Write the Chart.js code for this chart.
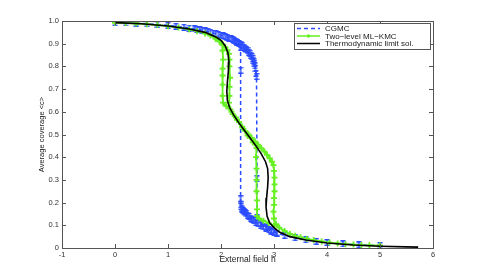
<!DOCTYPE html>
<html>
<head>
<meta charset="utf-8">
<script src="https://cdn.jsdelivr.net/npm/chart.js@4/dist/chart.umd.min.js"></script>
<style>
  html, body { margin: 0; padding: 0; background: #fff; }
  #wrap { width: 479px; height: 279px; }
</style>
</head>
<body>
<div id="wrap"><canvas id="chart" width="479" height="279"></canvas></div>
<script>
// Axis ticks
var hTicks = [-1, 0, 1, 2, 3, 4, 5, 6];
var cTicks = [0, 0.1, 0.2, 0.3, 0.4, 0.5, 0.6, 0.7, 0.8, 0.9, 1];

// CGMC, increasing h (upper branch, jump down, lower branch)
var cgmcFwdH = [0, 0.2, 0.4, 0.6, 0.8, 1.0, 1.15, 1.3, 1.4, 1.5, 1.55, 1.6, 1.65, 1.7, 1.75, 1.8, 1.85, 1.9, 1.95, 2.0, 2.04, 2.08, 2.12, 2.15, 2.19, 2.22, 2.25, 2.28, 2.31, 2.34, 2.37, 2.4, 2.43, 2.45, 2.48, 2.5, 2.52, 2.54, 2.56, 2.58, 2.6, 2.61, 2.62, 2.63, 2.64, 2.65, 2.66, 2.67, 2.68, 2.68, 2.75, 2.85, 2.95, 3.05, 3.2, 3.4, 3.6, 3.8, 4.0, 4.3, 4.6, 5.0];
var cgmcFwdC = [0.993, 0.992, 0.990, 0.988, 0.985, 0.981, 0.977, 0.973, 0.969, 0.965, 0.963, 0.961, 0.959, 0.956, 0.953, 0.950, 0.947, 0.944, 0.941, 0.937, 0.934, 0.931, 0.928, 0.925, 0.921, 0.918, 0.914, 0.910, 0.906, 0.901, 0.896, 0.890, 0.884, 0.880, 0.873, 0.868, 0.862, 0.856, 0.849, 0.842, 0.835, 0.828, 0.820, 0.812, 0.802, 0.790, 0.770, 0.755, 0.305, 0.135, 0.108, 0.092, 0.078, 0.066, 0.055, 0.045, 0.036, 0.029, 0.024, 0.018, 0.014, 0.011];
// CGMC, decreasing h (lower branch, jump up)
var cgmcBackH = [3.05, 3.0, 2.95, 2.9, 2.85, 2.8, 2.75, 2.7, 2.66, 2.62, 2.59, 2.56, 2.53, 2.5, 2.48, 2.46, 2.44, 2.42, 2.4, 2.39, 2.38, 2.37, 2.37, 2.37, 2.37, 2.3];
var cgmcBackC = [0.066, 0.069, 0.074, 0.080, 0.086, 0.093, 0.100, 0.107, 0.113, 0.120, 0.126, 0.132, 0.139, 0.145, 0.150, 0.155, 0.160, 0.165, 0.171, 0.176, 0.183, 0.190, 0.217, 0.783, 0.885, 0.905];

// Two-level ML-KMC, increasing h
var kmcFwdH = [0, 0.2, 0.4, 0.6, 0.8, 1.0, 1.2, 1.4, 1.55, 1.7, 1.8, 1.9, 1.97, 2.03, 2.08, 2.12, 2.15, 2.16, 2.16, 2.17, 2.16, 2.16, 2.15, 2.18, 2.22, 2.28, 2.34, 2.4, 2.46, 2.52, 2.58, 2.64, 2.7, 2.76, 2.82, 2.87, 2.92, 2.96, 2.99, 3.0, 3.01, 3.01, 3.01, 3.0, 3.0, 2.99, 3.0, 3.04, 3.1, 3.2, 3.3, 3.4, 3.5, 3.62, 3.75, 3.9, 4.05, 4.2, 4.35, 4.5, 4.65, 4.8, 5.0];
var kmcFwdC = [0.992, 0.991, 0.989, 0.986, 0.982, 0.977, 0.971, 0.963, 0.955, 0.945, 0.936, 0.922, 0.910, 0.897, 0.885, 0.872, 0.855, 0.830, 0.800, 0.750, 0.710, 0.670, 0.640, 0.610, 0.590, 0.575, 0.555, 0.535, 0.515, 0.500, 0.485, 0.470, 0.455, 0.440, 0.425, 0.410, 0.395, 0.380, 0.365, 0.340, 0.310, 0.280, 0.250, 0.220, 0.190, 0.160, 0.130, 0.105, 0.090, 0.075, 0.062, 0.054, 0.047, 0.041, 0.035, 0.029, 0.024, 0.020, 0.017, 0.015, 0.013, 0.012, 0.011];
// Two-level ML-KMC, decreasing h
var kmcBackH = [3.0, 2.9, 2.8, 2.72, 2.68, 2.68, 2.68, 2.67, 2.67, 2.67, 2.66, 2.67, 2.6, 2.5, 2.4, 2.3, 2.2, 2.1, 2.04, 2.03, 2.03, 2.03, 2.03, 2.04, 2.03, 2.03, 1.98, 1.9];
var kmcBackC = [0.100, 0.110, 0.120, 0.130, 0.140, 0.170, 0.210, 0.250, 0.300, 0.350, 0.400, 0.440, 0.465, 0.495, 0.530, 0.565, 0.600, 0.625, 0.640, 0.670, 0.720, 0.760, 0.790, 0.830, 0.870, 0.895, 0.910, 0.922];

// Thermodynamic limit solution
var thermoH = [0, 0.5, 1, 1.4, 1.7, 1.9, 2.0, 2.08, 2.13, 2.15, 2.14, 2.12, 2.11, 2.12, 2.16, 2.24, 2.34, 2.45, 2.55, 2.66, 2.76, 2.84, 2.88, 2.89, 2.88, 2.86, 2.85, 2.87, 2.92, 3.0, 3.1, 3.3, 3.6, 4.0, 4.5, 5.0, 5.5, 5.72];
var thermoC = [0.993, 0.988, 0.978, 0.965, 0.950, 0.930, 0.915, 0.890, 0.860, 0.820, 0.780, 0.730, 0.690, 0.650, 0.620, 0.585, 0.550, 0.515, 0.485, 0.450, 0.415, 0.380, 0.350, 0.310, 0.270, 0.220, 0.180, 0.140, 0.110, 0.090, 0.070, 0.050, 0.035, 0.022, 0.013, 0.008, 0.005, 0.004];

var BLUE = '#2a4bff';
var GREEN = '#66f022';
var AXIS = '#555';
var FONT = '"Liberation Sans", Arial, sans-serif';

function pairs(xs, ys) {
  return xs.map(function (x, i) { return { x: x, y: ys[i] }; });
}

// little error-bar glyph for the CGMC points
function errorBarGlyph(color) {
  var c = document.createElement('canvas');
  c.width = 6; c.height = 7;
  var g = c.getContext('2d');
  g.strokeStyle = color;
  g.lineWidth = 1.4;
  g.beginPath();
  g.moveTo(3, 0.5); g.lineTo(3, 6.5);
  g.moveTo(0.5, 0.8); g.lineTo(5.5, 0.8);
  g.moveTo(0.5, 6.2); g.lineTo(5.5, 6.2);
  g.stroke();
  return c;
}
var blueGlyph = errorBarGlyph(BLUE);

// box around the plot with inward ticks on all four sides
var boxPlugin = {
  id: 'box',
  afterDatasetsDraw: function (chart) {
    var ctx = chart.ctx, a = chart.chartArea;
    var xs = chart.scales.x, ys = chart.scales.y;
    ctx.save();
    ctx.strokeStyle = AXIS;
    ctx.lineWidth = 1;
    ctx.strokeRect(a.left + 0.5, a.top + 0.5, a.right - a.left, a.bottom - a.top);
    ctx.beginPath();
    hTicks.forEach(function (v) {
      var px = Math.round(xs.getPixelForValue(v)) + 0.5;
      ctx.moveTo(px, a.bottom); ctx.lineTo(px, a.bottom - 4);
      ctx.moveTo(px, a.top); ctx.lineTo(px, a.top + 4);
    });
    cTicks.forEach(function (v) {
      var py = Math.round(ys.getPixelForValue(v)) + 0.5;
      ctx.moveTo(a.left, py); ctx.lineTo(a.left + 4, py);
      ctx.moveTo(a.right, py); ctx.lineTo(a.right - 4, py);
    });
    ctx.stroke();
    ctx.restore();
  }
};

// matlab-like legend box in the upper right corner
var legendPlugin = {
  id: 'mlegend',
  afterDraw: function (chart) {
    var ctx = chart.ctx;
    var bx = 294, by = 23, bw = 136, bh = 26;
    ctx.save();
    ctx.fillStyle = '#fff';
    ctx.fillRect(bx, by, bw, bh);
    ctx.strokeStyle = AXIS;
    ctx.lineWidth = 1;
    ctx.strokeRect(bx + 0.5, by + 0.5, bw, bh);
    var rows = [
      { text: 'CGMC', color: BLUE, dash: [4, 3], marker: false },
      { text: 'Two\u2212level ML\u2212KMC', color: GREEN, dash: [], marker: true },
      { text: 'Thermodynamic limit sol.', color: '#000', dash: [], marker: false }
    ];
    rows.forEach(function (r, i) {
      var y = by + 5.5 + i * 7.5;
      ctx.strokeStyle = r.color;
      ctx.lineWidth = 1.5;
      ctx.setLineDash(r.dash);
      ctx.beginPath();
      ctx.moveTo(297, y); ctx.lineTo(320, y);
      ctx.stroke();
      ctx.setLineDash([]);
      if (r.marker) {
        ctx.fillStyle = r.color;
        ctx.beginPath();
        ctx.arc(308.5, y, 1.8, 0, Math.PI * 2);
        ctx.fill();
      }
      ctx.fillStyle = '#222';
      ctx.font = '8px ' + FONT;
      ctx.textBaseline = 'middle';
      ctx.fillText(r.text, 325, y + 0.5);
    });
    ctx.restore();
  }
};

var ctx = document.getElementById('chart').getContext('2d');
new Chart(ctx, {
  type: 'scatter',
  data: {
    datasets: [
      {
        label: 'Thermodynamic limit sol.',
        data: pairs(thermoH, thermoC),
        showLine: true, borderColor: '#000', borderWidth: 1.6,
        pointRadius: 0, order: 0
      },
      {
        label: 'Two-level ML-KMC',
        data: pairs(kmcFwdH, kmcFwdC),
        showLine: true, borderColor: GREEN, borderWidth: 1.8,
        pointStyle: 'cross', pointRadius: 3, pointBorderWidth: 1.8,
        pointBorderColor: GREEN, pointBackgroundColor: GREEN, order: 1
      },
      {
        label: 'Two-level ML-KMC (back)',
        data: pairs(kmcBackH, kmcBackC),
        showLine: true, borderColor: GREEN, borderWidth: 1.8,
        pointStyle: 'cross', pointRadius: 3, pointBorderWidth: 1.8,
        pointBorderColor: GREEN, pointBackgroundColor: GREEN, order: 1
      },
      {
        label: 'CGMC',
        data: pairs(cgmcFwdH, cgmcFwdC),
        showLine: true, borderColor: BLUE, borderWidth: 1.5, borderDash: [4, 3],
        pointStyle: blueGlyph, pointRadius: 2, order: 2
      },
      {
        label: 'CGMC (back)',
        data: pairs(cgmcBackH, cgmcBackC),
        showLine: true, borderColor: BLUE, borderWidth: 1.5, borderDash: [4, 3],
        pointStyle: blueGlyph, pointRadius: 2, order: 2
      }
    ]
  },
  options: {
    responsive: false,
    animation: false,
    layout: { padding: { left: 0, right: 46, top: 21, bottom: 0 } },
    plugins: {
      legend: { display: false },
      tooltip: { enabled: false }
    },
    scales: {
      x: {
        type: 'linear', min: -1, max: 6,
        afterBuildTicks: function (s) { s.ticks = hTicks.map(function (v) { return { value: v }; }); },
        afterFit: function (s) { s.height = 31; },
        grid: { display: false, drawTicks: false },
        border: { display: false },
        ticks: { color: '#333', padding: 2, font: { family: FONT, size: 7.5 } },
        title: {
          display: true, text: 'External field h', color: '#222',
          font: { family: FONT, size: 8.5 }, padding: { top: 0, bottom: 14 }
        }
      },
      y: {
        type: 'linear', min: 0, max: 1,
        afterBuildTicks: function (s) { s.ticks = cTicks.map(function (v) { return { value: v }; }); },
        afterFit: function (s) { s.width = 62; },
        grid: { display: false, drawTicks: false },
        border: { display: false },
        ticks: { color: '#333', padding: 3, font: { family: FONT, size: 7.5 } },
        title: {
          display: true, text: 'Average coverage <c>', color: '#222',
          font: { family: FONT, size: 7.5 }, padding: { top: 37, bottom: 0 }
        }
      }
    }
  },
  plugins: [boxPlugin, legendPlugin]
});
</script>
</body>
</html>
